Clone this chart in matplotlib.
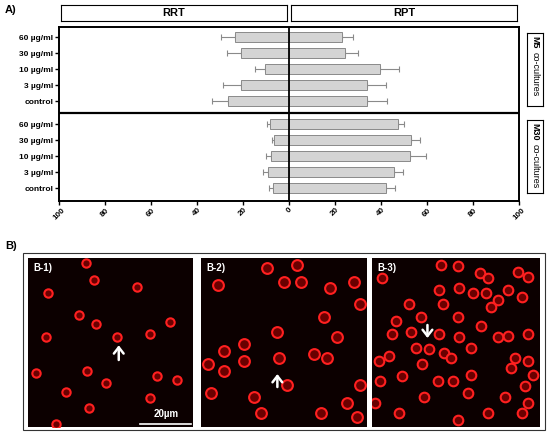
import matplotlib
matplotlib.use("Agg")
import matplotlib.pyplot as plt
from matplotlib.patches import Rectangle
import numpy as np

plt.rcParams["font.family"] = ["Liberation Sans", "DejaVu Sans"]

# ---- data ----
doses = ["60 µg/ml", "30 µg/ml", "10 µg/ml", "3 µg/ml", "control"]
rrt_m5 = [23.5, 21.0, 10.4, 21.0, 26.4]
rrt_m5_err = [6.1, 5.8, 4.6, 7.7, 7.1]
rpt_m5 = [22.9, 24.2, 39.4, 34.0, 34.0]
rpt_m5_err = [5.1, 5.7, 8.3, 8.2, 8.4]
rrt_m30 = [8.3, 6.5, 7.8, 9.3, 7.1]
rrt_m30_err = [1.4, 1.0, 2.3, 1.9, 1.5]
rpt_m30 = [47.2, 53.0, 52.7, 45.5, 42.3]
rpt_m30_err = [2.8, 4.0, 7.0, 4.2, 3.9]
xticks = [-100, -80, -60, -40, -20, 0, 20, 40, 60, 80, 100]

# approximate cell centres in the micrographs (axes fraction, y from top)
cells_b1 = [(0.12, 0.21), (0.40, 0.13), (0.66, 0.17), (0.31, 0.34), (0.41, 0.39),
            (0.54, 0.47), (0.74, 0.45), (0.86, 0.38), (0.11, 0.47), (0.36, 0.67),
            (0.90, 0.72), (0.47, 0.74), (0.23, 0.79), (0.37, 0.89), (0.74, 0.83),
            (0.17, 0.98), (0.35, 0.03), (0.05, 0.68), (0.78, 0.70)]
cells_b2 = [(0.40, 0.06), (0.50, 0.14), (0.60, 0.14), (0.78, 0.18), (0.92, 0.14),
            (0.10, 0.16), (0.96, 0.27), (0.74, 0.35), (0.82, 0.47), (0.26, 0.51),
            (0.46, 0.44), (0.26, 0.61), (0.14, 0.55), (0.04, 0.63), (0.14, 0.67),
            (0.68, 0.57), (0.76, 0.59), (0.47, 0.59), (0.52, 0.75), (0.32, 0.82),
            (0.06, 0.80), (0.96, 0.75), (0.94, 0.94), (0.72, 0.92), (0.36, 0.92),
            (0.58, 0.04), (0.88, 0.86)]
cells_b3 = [(0.06, 0.12), (0.41, 0.04), (0.51, 0.05), (0.64, 0.09), (0.69, 0.12),
            (0.87, 0.08), (0.93, 0.11), (0.40, 0.19), (0.52, 0.18), (0.60, 0.21),
            (0.68, 0.21), (0.81, 0.19), (0.75, 0.25), (0.89, 0.23), (0.42, 0.27),
            (0.22, 0.27), (0.71, 0.29), (0.29, 0.35), (0.14, 0.37), (0.51, 0.35),
            (0.65, 0.40), (0.12, 0.45), (0.23, 0.44), (0.40, 0.45), (0.52, 0.47),
            (0.75, 0.47), (0.81, 0.46), (0.93, 0.45), (0.34, 0.54), (0.43, 0.56),
            (0.26, 0.53), (0.10, 0.58), (0.59, 0.53), (0.30, 0.63), (0.47, 0.59),
            (0.85, 0.59), (0.93, 0.61), (0.96, 0.69), (0.83, 0.65), (0.39, 0.73),
            (0.48, 0.73), (0.59, 0.69), (0.18, 0.70), (0.05, 0.73), (0.31, 0.82),
            (0.57, 0.80), (0.79, 0.82), (0.91, 0.76), (0.93, 0.86), (0.69, 0.92),
            (0.89, 0.92), (0.51, 0.96), (0.16, 0.92), (0.04, 0.61), (0.02, 0.86)]

W, H = 550, 436
fig = plt.figure(figsize=(W / 100, H / 100), dpi=100)


def px_axes(x0, y0, x1, y1):
    return fig.add_axes([x0 / W, 1 - y1 / H, (x1 - x0) / W, (y1 - y0) / H])


# ---- panel A ----
ax = px_axes(59, 27, 519, 201)
y_m5 = np.arange(5)
y_m30 = np.arange(5) + 5.44
bar_kw = dict(height=0.66, color="#d4d4d4", edgecolor="#8a8a8a", lw=0.7, zorder=2)
err_kw = dict(fmt="none", ecolor="#8a8a8a", elinewidth=0.8, capsize=2,
              capthick=0.8, zorder=1)
for ys, rrt, rrte, rpt, rpte in [(y_m5, rrt_m5, rrt_m5_err, rpt_m5, rpt_m5_err),
                                  (y_m30, rrt_m30, rrt_m30_err, rpt_m30, rpt_m30_err)]:
    rrt = np.array(rrt)
    rpt = np.array(rpt)
    ax.barh(ys, -rrt, **bar_kw)
    ax.barh(ys, rpt, **bar_kw)
    ax.errorbar(-rrt, ys, xerr=[rrte, np.zeros(5)], **err_kw)
    ax.errorbar(rpt, ys, xerr=[np.zeros(5), rpte], **err_kw)

ax.axvline(0, color="black", lw=1.3, zorder=3)
ax.axhline(4.72, color="black", lw=1.6, zorder=3)
ax.set_xlim(-100, 100)
ax.set_ylim(10.25, -0.625)
ax.set_yticks(list(y_m5) + list(y_m30))
ax.set_yticklabels(doses + doses, fontsize=6, fontweight="bold")
ax.set_xticks(xticks)
ax.set_xticklabels([str(abs(t)) for t in xticks], rotation=45, fontsize=5.8,
                   fontweight="bold", ha="center", va="top")
ax.tick_params(axis="both", length=3, width=1, pad=1)
for s in ax.spines.values():
    s.set_linewidth(1.4)

# header boxes
for x0, x1, lab in [(61, 287, "RRT"), (291, 517, "RPT")]:
    hax = px_axes(x0, 5, x1, 21)
    hax.set_xticks([])
    hax.set_yticks([])
    for s in hax.spines.values():
        s.set_linewidth(0.8)
    hax.text(0.5, 0.5, lab, ha="center", va="center", fontsize=8,
             fontweight="bold", transform=hax.transAxes)

# side labels
for y0, y1, tag in [(33, 106, "M5"), (120, 193, "M30")]:
    sax = px_axes(527, y0, 543, y1)
    sax.set_xticks([])
    sax.set_yticks([])
    for s in sax.spines.values():
        s.set_linewidth(0.8)
    sax.text(0.5, 0.96, tag, rotation=-90, ha="center", va="top", fontsize=6.5,
             fontweight="bold", transform=sax.transAxes)
    off = 0.22 if tag == "M5" else 0.29
    sax.text(0.5, 0.96 - off, "co-cultures", rotation=-90, ha="center", va="top",
             fontsize=6.5, transform=sax.transAxes)

fig.text(5 / W, 1 - 10 / H, "A)", fontsize=8, fontweight="bold", va="center")
fig.text(5 / W, 1 - 246 / H, "B)", fontsize=8, fontweight="bold", va="center")

# ---- panel B ----
fig.patches.append(Rectangle((23 / W, 1 - 430 / H), 522 / W, 177 / H,
                             transform=fig.transFigure, fill=False,
                             edgecolor="#333333", lw=0.8))

panels = [((28, 258, 193, 427), "B-1)", cells_b1, 36),
          ((201, 258, 367, 427), "B-2)", cells_b2, 60),
          ((372, 258, 540, 427), "B-3)", cells_b3, 48)]
img_axes = []
for (x0, y0, x1, y1), lab, cells, sz in panels:
    iax = px_axes(x0, y0, x1, y1)
    iax.set_facecolor("#0c0000")
    iax.set_xlim(0, 1)
    iax.set_ylim(1, 0)
    iax.set_xticks([])
    iax.set_yticks([])
    for s in iax.spines.values():
        s.set_visible(False)
    cx = [c[0] for c in cells]
    cy = [c[1] for c in cells]
    iax.scatter(cx, cy, s=sz, facecolor="#6a0000", edgecolor="#ff2020", lw=1.5)
    iax.text(0.03, 0.97, lab, color="white", fontsize=7, fontweight="bold",
             ha="left", va="top", transform=iax.transAxes)
    img_axes.append(iax)

ax1, ax2, ax3 = img_axes
arrow_kw = dict(arrowstyle="->,head_width=0.35,head_length=0.45", color="white", lw=1.8)
ax1.annotate("", xy=(0.55, 0.50), xytext=(0.55, 0.62), arrowprops=arrow_kw)
ax2.annotate("", xy=(0.46, 0.67), xytext=(0.46, 0.78), arrowprops=arrow_kw)
ax3.annotate("", xy=(0.33, 0.49), xytext=(0.33, 0.38), arrowprops=arrow_kw)

# scale bar
ax1.plot([0.68, 0.99], [0.98, 0.98], color="white", lw=1.2)
ax1.text(0.835, 0.955, "20µm", color="white", fontsize=7, fontweight="bold",
         ha="center", va="bottom")

fig.savefig("out.png", dpi=100)
